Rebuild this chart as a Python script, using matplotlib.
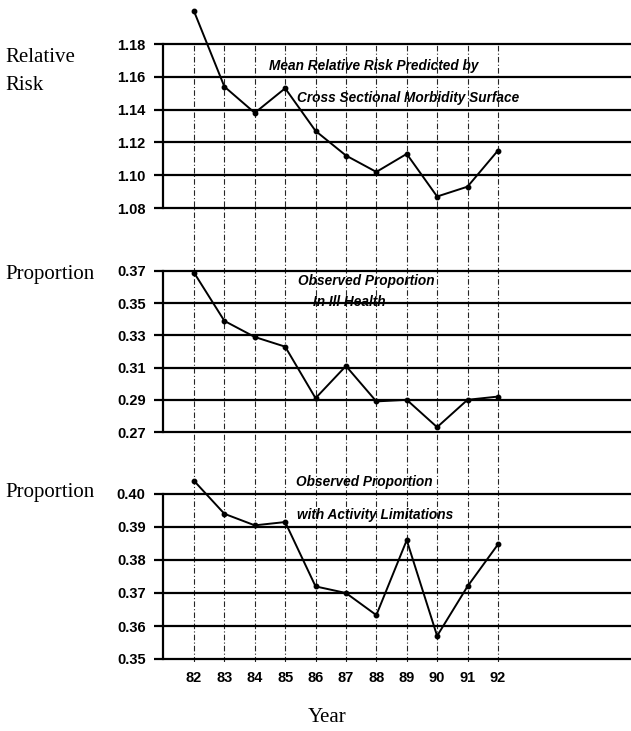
import matplotlib
matplotlib.use('Agg')
import matplotlib.pyplot as plt
from matplotlib.ticker import FormatStrFormatter

# data
years = [82, 83, 84, 85, 86, 87, 88, 89, 90, 91, 92]
relative_risk = [1.200, 1.154, 1.138, 1.153, 1.127, 1.112, 1.102, 1.113, 1.087, 1.093, 1.115]
ill_health = [0.369, 0.339, 0.329, 0.323, 0.291, 0.311, 0.289, 0.290, 0.273, 0.290, 0.292]
activity_limits = [0.404, 0.394, 0.3905, 0.3915, 0.372, 0.370, 0.3633, 0.386, 0.357, 0.372, 0.3847]

rr_ticks = [1.08, 1.10, 1.12, 1.14, 1.16, 1.18]
ill_ticks = [0.27, 0.29, 0.31, 0.33, 0.35, 0.37]
act_ticks = [0.35, 0.36, 0.37, 0.38, 0.39, 0.40]

W, H = 631, 731
XLIM = (80.98, 96.38)
sans = 'Liberation Sans'
serif = 'Liberation Serif'


def box(top, bottom, left=163, right=631):
    return [left / W, 1 - bottom / H, (right - left) / W, (bottom - top) / H]


def fx(px):
    return px / W


def fy(py):
    return 1 - py / H


fig = plt.figure(figsize=(W / 100, H / 100), dpi=100)

# background axes holding the dashed year lines that run through all panels
bg = fig.add_axes(box(44, 662))
bg.set_xlim(*XLIM)
bg.set_ylim(0, 1)
bg.axis('off')
for yr in years:
    bg.axvline(yr, color='black', lw=0.8, linestyle=(0, (5, 2, 1, 2)), alpha=0.85)

panels = [
    (box(44, 208), relative_risk, rr_ticks),
    (box(271, 432), ill_health, ill_ticks),
    (box(494, 659), activity_limits, act_ticks),
]

axes = []
for pos, values, ticks in panels:
    ax = fig.add_axes(pos)
    ax.set_facecolor('none')
    ax.set_xlim(*XLIM)
    ax.set_ylim(ticks[0], ticks[-1])
    for s in ['top', 'right', 'bottom']:
        ax.spines[s].set_visible(False)
    ax.spines['left'].set_linewidth(1.6)
    ax.hlines(ticks, XLIM[0], XLIM[1], colors='black', lw=1.6, clip_on=False)
    ax.plot(years, values, color='black', lw=1.4, marker='o', markersize=3.2, clip_on=False)
    ax.set_yticks(ticks)
    ax.yaxis.set_major_formatter(FormatStrFormatter('%.2f'))
    ax.tick_params(axis='y', length=6.5, width=1.6, pad=6, direction='out')
    for lab in ax.get_yticklabels():
        lab.set_fontfamily(sans)
        lab.set_fontweight('bold')
        lab.set_fontsize(10.5)
    ax.set_xticks(years)
    ax.tick_params(axis='x', length=0, labelbottom=False)
    axes.append(ax)

axes[-1].tick_params(axis='x', labelbottom=True, pad=9)
axes[-1].set_xticklabels([str(y) for y in years], fontfamily=sans,
                         fontweight='bold', fontsize=10.5)

# left-hand labels
fig.text(fx(5), fy(57), 'Relative', family=serif, fontsize=15, va='center')
fig.text(fx(5), fy(86), 'Risk', family=serif, fontsize=15, va='center')
fig.text(fx(5), fy(275), 'Proportion', family=serif, fontsize=15, va='center')
fig.text(fx(5), fy(493), 'Proportion', family=serif, fontsize=15, va='center')
fig.text(fx(327), fy(717), 'Year', family=serif, fontsize=15, va='center', ha='center')

# panel captions
cap = dict(family=sans, fontsize=9.8, fontweight='bold', fontstyle='italic', va='center')
fig.text(fx(269), fy(66), 'Mean Relative Risk Predicted by', **cap)
fig.text(fx(297), fy(98), 'Cross Sectional Morbidity Surface', **cap)
fig.text(fx(298), fy(281), 'Observed Proportion', **cap)
fig.text(fx(313), fy(302), 'In Ill Health', **cap)
fig.text(fx(296), fy(482), 'Observed Proportion', **cap)
fig.text(fx(297), fy(515), 'with Activity Limitations', **cap)

fig.savefig('out.png', dpi=100)
